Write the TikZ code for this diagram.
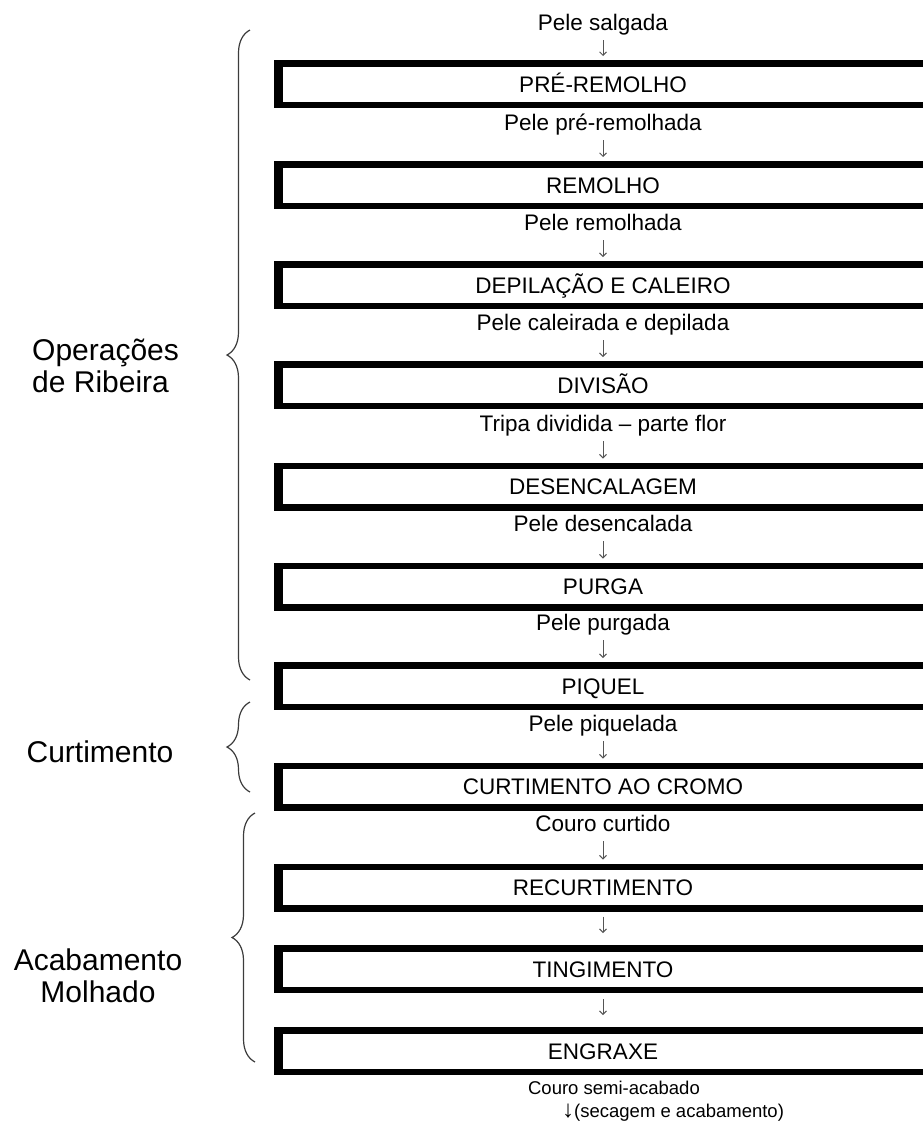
\documentclass[tikz,border=0pt]{standalone}
\usepackage{fontspec}
\setmainfont{Liberation Sans}
\usetikzlibrary{arrows.meta,decorations.pathreplacing}
\begin{document}
\begin{tikzpicture}[x=1pt,y=-1pt,
  boxnode/.style={draw=black,line width=6.5pt,minimum width=651.5pt,minimum height=41.5pt,
    inner sep=0pt,font=\fontsize{22.5}{27}\selectfont,text height=16pt,text depth=0pt},
  lbl/.style={inner sep=0pt,font=\fontsize{22.5}{27}\selectfont,text height=16pt,text depth=0pt},
  smalllbl/.style={inner sep=0pt,font=\fontsize{18.5}{22}\selectfont,text height=13pt,text depth=0pt},
  grp/.style={inner sep=0pt,font=\fontsize{30}{32}\selectfont},
  arr/.style={draw={rgb,255:red,85;green,85;blue,85},line width=0.9pt,
    -{Straight Barb[length=3.5pt,width=7pt]}},
  brc/.style={draw={rgb,255:red,60;green,60;blue,60},line width=1.2pt,decorate,
    decoration={brace,amplitude=23pt}}
]
\useasboundingbox (0,0) rectangle (923,1128);

% boxes
\node[boxnode] (b1) at (603,84) {PRÉ-REMOLHO};
\node[boxnode] (b2) at (603,185) {REMOLHO};
\node[boxnode] (b3) at (603,285) {DEPILAÇÃO E CALEIRO};
\node[boxnode] (b4) at (603,385) {DIVISÃO};
\node[boxnode] (b5) at (603,486.5) {DESENCALAGEM};
\node[boxnode] (b6) at (603,586.5) {PURGA};
\node[boxnode] (b7) at (603,686) {PIQUEL};
\node[boxnode] (b8) at (603,786.5) {CURTIMENTO AO CROMO};
\node[boxnode] (b9) at (603,887.5) {RECURTIMENTO};
\node[boxnode] (b10) at (603,969) {TINGIMENTO};
\node[boxnode] (b11) at (603,1051) {ENGRAXE};
\foreach \b in {b1,b2,b3,b4,b5,b6,b7,b8,b9,b10,b11}{
  \fill (\b.north west) rectangle ([xshift=9pt]\b.south west);
}

% product labels
\node[lbl] (l0) at (603,22) {Pele salgada};
\node[lbl] (l1) at (603,122) {Pele pré-remolhada};
\node[lbl] (l2) at (603,222) {Pele remolhada};
\node[lbl] (l3) at (603,322) {Pele caleirada e depilada};
\node[lbl] (l4) at (603,423) {Tripa dividida – parte flor};
\node[lbl] (l5) at (603,523) {Pele desencalada};
\node[lbl] (l6) at (603,622) {Pele purgada};
\node[lbl] (l7) at (603,723) {Pele piquelada};
\node[lbl] (l8) at (603,823) {Couro curtido};
\node[smalllbl] (l9) at (614,1088) {Couro semi-acabado};
\node[smalllbl,anchor=west] (l10) at (562,1111) {{\fontsize{24}{24}\selectfont ↓}(secagem e acabamento)};

% arrows label -> box
\foreach \a/\b in {l0/b1,l1/b2,l2/b3,l3/b4,l4/b5,l5/b6,l6/b7,l7/b8,l8/b9}{
  \draw[arr,shorten <=10pt,shorten >=4pt] (\a.south) -- (\b.north);
}
% arrows box -> box
\draw[arr,shorten <=5pt,shorten >=12pt] (b9.south) -- (b10.north);
\draw[arr,shorten <=6pt,shorten >=12pt] (b10.south) -- (b11.north);

% group labels and braces
\node[grp,align=left,anchor=west] (g1) at (32,366) {Operações\\de Ribeira};
\node[grp] (g2) at (100,752) {Curtimento};
\node[grp,align=center] (g3) at (98,976) {Acabamento\\Molhado};

\coordinate (r1b) at (250,680);
\coordinate (r1t) at (250,30);
\coordinate (r2b) at (250,792);
\coordinate (r2t) at (250,702);
\coordinate (r3b) at (255,1062);
\coordinate (r3t) at (255,813);
\draw[brc] (r1b) -- (r1t);
\draw[brc] (r2b) -- (r2t);
\draw[brc] (r3b) -- (r3t);
\end{tikzpicture}
\end{document}
